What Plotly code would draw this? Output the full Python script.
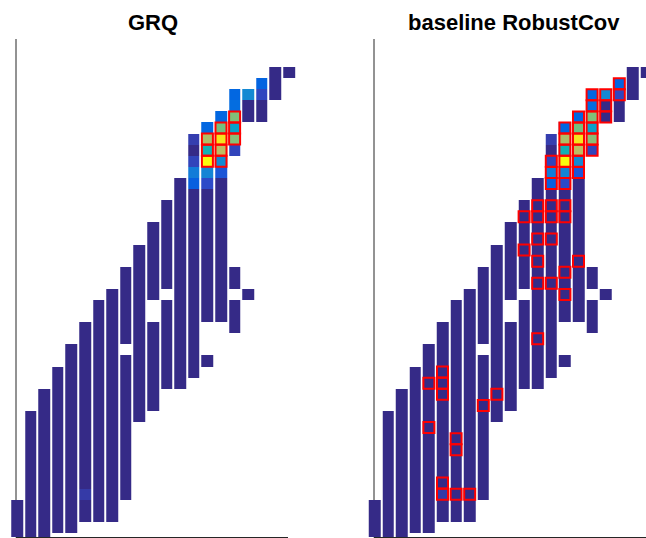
import numpy as np
import plotly.graph_objects as go

W, H = 646, 538
N_COLS = 21
N_ROWS = 43

# occupied row runs of the grid: (column, first row, last row); rows counted from the top
seg_col = [1, 2, 3, 4, 5, 6, 7, 8, 9, 9, 10, 11, 11, 12, 12, 13, 14, 15, 15, 16, 17, 17, 17, 18, 18, 19, 20, 21]
seg_first = [39, 31, 29, 27, 25, 23, 21, 20, 18, 26, 16, 14, 23, 12, 21, 10, 6, 5, 26, 4, 2, 18, 21, 2, 20, 1, 0, 0]
seg_last = [42, 42, 42, 41, 41, 40, 40, 40, 24, 38, 31, 20, 30, 19, 28, 28, 27, 22, 26, 22, 7, 19, 23, 4, 20, 4, 2, 0]

# cells above the minimum value (normalised 0..1)
hot_col = [19, 19, 18, 17, 17, 17, 17, 17, 17, 16, 16, 16, 16, 16, 16, 15, 15, 15, 15, 15, 15, 14, 14, 14, 14, 6]
hot_row = [1, 2, 2, 2, 3, 4, 5, 6, 7, 4, 5, 6, 7, 8, 9, 5, 6, 7, 8, 9, 10, 6, 8, 9, 10, 38]
hot_val = [0.13, 0.07, 0.27, 0.14, 0.16, 0.61, 0.36, 0.62, 0.065, 0.14, 0.59, 0.95, 0.71, 0.27, 0.10,
           0.14, 0.68, 0.44, 1.0, 0.25, 0.08, 0.05, 0.065, 0.22, 0.12, 0.04]

# highlighted (outlined) cells: column -> rows
grq_hl = {15: [6, 7, 8], 16: [5, 6, 7, 8], 17: [4, 5, 6]}
base_hl = {
    19: [1, 2],
    18: [2, 3, 4],
    17: [2, 3, 4, 5, 6, 7],
    16: [4, 5, 6, 7, 8, 9, 17],
    15: [5, 6, 7, 8, 9, 10, 12, 13, 18, 20],
    14: [8, 9, 10, 12, 13, 15, 19],
    13: [12, 13, 15, 17, 19, 24],
    12: [13, 16],
    10: [29],
    9: [30],
    8: [38],
    7: [33, 34, 38],
    6: [27, 28, 29, 37, 38],
    5: [28, 32],
}

titles = ["GRQ", "baseline RobustCov"]

# MATLAB parula (R2014b) 64 colours
parula = [[0.2081, 0.1663, 0.5292], [0.2116, 0.1898, 0.5777], [0.2123, 0.2138, 0.6270], [0.2081, 0.2386, 0.6771],
          [0.1959, 0.2645, 0.7279], [0.1707, 0.2919, 0.7792], [0.1253, 0.3242, 0.8303], [0.0591, 0.3598, 0.8683],
          [0.0117, 0.3875, 0.8820], [0.0060, 0.4086, 0.8828], [0.0165, 0.4266, 0.8786], [0.0329, 0.4430, 0.8720],
          [0.0498, 0.4586, 0.8641], [0.0629, 0.4737, 0.8554], [0.0723, 0.4887, 0.8467], [0.0779, 0.5040, 0.8384],
          [0.0793, 0.5200, 0.8312], [0.0749, 0.5375, 0.8263], [0.0641, 0.5570, 0.8240], [0.0488, 0.5772, 0.8228],
          [0.0343, 0.5966, 0.8199], [0.0265, 0.6137, 0.8135], [0.0239, 0.6287, 0.8038], [0.0231, 0.6418, 0.7913],
          [0.0228, 0.6535, 0.7768], [0.0267, 0.6642, 0.7607], [0.0384, 0.6743, 0.7436], [0.0590, 0.6838, 0.7254],
          [0.0843, 0.6928, 0.7062], [0.1133, 0.7015, 0.6859], [0.1453, 0.7098, 0.6646], [0.1801, 0.7177, 0.6424],
          [0.2178, 0.7250, 0.6193], [0.2586, 0.7317, 0.5954], [0.3022, 0.7376, 0.5712], [0.3482, 0.7424, 0.5473],
          [0.3953, 0.7459, 0.5244], [0.4420, 0.7481, 0.5033], [0.4871, 0.7491, 0.4840], [0.5300, 0.7491, 0.4661],
          [0.5709, 0.7485, 0.4494], [0.6099, 0.7473, 0.4337], [0.6473, 0.7456, 0.4188], [0.6834, 0.7435, 0.4044],
          [0.7184, 0.7411, 0.3905], [0.7525, 0.7384, 0.3768], [0.7858, 0.7356, 0.3633], [0.8185, 0.7327, 0.3498],
          [0.8507, 0.7299, 0.3360], [0.8824, 0.7274, 0.3217], [0.9139, 0.7258, 0.3063], [0.9450, 0.7261, 0.2886],
          [0.9739, 0.7314, 0.2666], [0.9938, 0.7455, 0.2403], [0.9990, 0.7653, 0.2164], [0.9955, 0.7861, 0.1967],
          [0.9880, 0.8066, 0.1794], [0.9789, 0.8271, 0.1633], [0.9697, 0.8481, 0.1475], [0.9626, 0.8705, 0.1309],
          [0.9589, 0.8949, 0.1132], [0.9598, 0.9218, 0.0948], [0.9661, 0.9514, 0.0755], [0.9763, 0.9831, 0.0538]]
colorscale = [[i / 63, "rgb(%d,%d,%d)" % tuple(round(255 * c) for c in parula[i])] for i in range(64)]

# build grid
z = np.full((N_ROWS, N_COLS), np.nan)
for c, a, b in zip(seg_col, seg_first, seg_last):
    z[a:b + 1, c - 1] = 0.0
for c, r, v in zip(hot_col, hot_row, hot_val):
    z[r, c - 1] = v

xs = list(range(1, N_COLS + 1))
ys = list(range(N_ROWS))

# pixel geometry
col_pitch = 13.6
row_pitch = 11.095
left_x0 = 10.2            # left edge of column 1, left panel (px)
panel_shift = 357.5       # right panel offset (px)
row0_center = 72.55       # pixel centre of row 0
y_top_px, y_bot_px = 39, 537

def ydata(p):
    return (p - row0_center) / row_pitch

fig = go.Figure()
xref_names = ["x", "x2"]
for k, hl in enumerate([grq_hl, base_hl]):
    fig.add_trace(go.Heatmap(
        x=xs, y=ys, z=z, colorscale=colorscale, zmin=0, zmax=1, showscale=False,
        xgap=2, ygap=0, xaxis=xref_names[k], yaxis="y", hoverinfo="skip"))
    hx, hy = [], []
    for c, rows in hl.items():
        for r in rows:
            hx.append(c)
            hy.append(r)
    fig.add_trace(go.Scatter(
        x=hx, y=hy, mode="markers", xaxis=xref_names[k], yaxis="y",
        marker=dict(symbol="square-open", size=11, color="#ff0000",
                    line=dict(width=2, color="#ff0000")),
        hoverinfo="skip", showlegend=False))

# axes domains
l0 = left_x0
l1 = left_x0 + col_pitch * N_COLS
r0 = left_x0 + panel_shift
r1 = min(W, r0 + col_pitch * N_COLS)
ax_common = dict(visible=False, showgrid=False, zeroline=False, fixedrange=True)
fig.update_layout(
    width=W, height=H, margin=dict(l=0, r=0, t=0, b=0),
    paper_bgcolor="white", plot_bgcolor="rgba(0,0,0,0)",
    showlegend=False,
    xaxis=dict(domain=[l0 / W, l1 / W], range=[0.5, 0.5 + N_COLS], anchor="y", **ax_common),
    xaxis2=dict(domain=[r0 / W, r1 / W], range=[0.5, 0.5 + (r1 - r0) / col_pitch], anchor="y", **ax_common),
    yaxis=dict(domain=[1 - y_bot_px / H, 1 - y_top_px / H],
               range=[ydata(y_bot_px), ydata(y_top_px)], **ax_common),
)

# axis box lines (left and bottom) drawn beneath the cells
line_style = dict(color="#262626", width=1)
for px_left, px_right in [(16, 288), (374, 646)]:
    fig.add_shape(type="line", xref="paper", yref="paper", layer="below",
                  x0=px_left / W, x1=px_left / W, y0=1 - 537.5 / H, y1=1 - y_top_px / H, line=line_style)
    fig.add_shape(type="line", xref="paper", yref="paper", layer="below",
                  x0=px_left / W, x1=px_right / W, y0=1 - 537.5 / H, y1=1 - 537.5 / H, line=line_style)

title_x = [153, 513.5]
for t, tx in zip(titles, title_x):
    fig.add_annotation(text=t, x=tx / W, y=1 - 23 / H, xref="paper", yref="paper",
                       xanchor="center", yanchor="middle", showarrow=False,
                       font=dict(family="Liberation Sans, Arial", size=22, color="black", weight="bold"))

fig.write_html("out.html")
